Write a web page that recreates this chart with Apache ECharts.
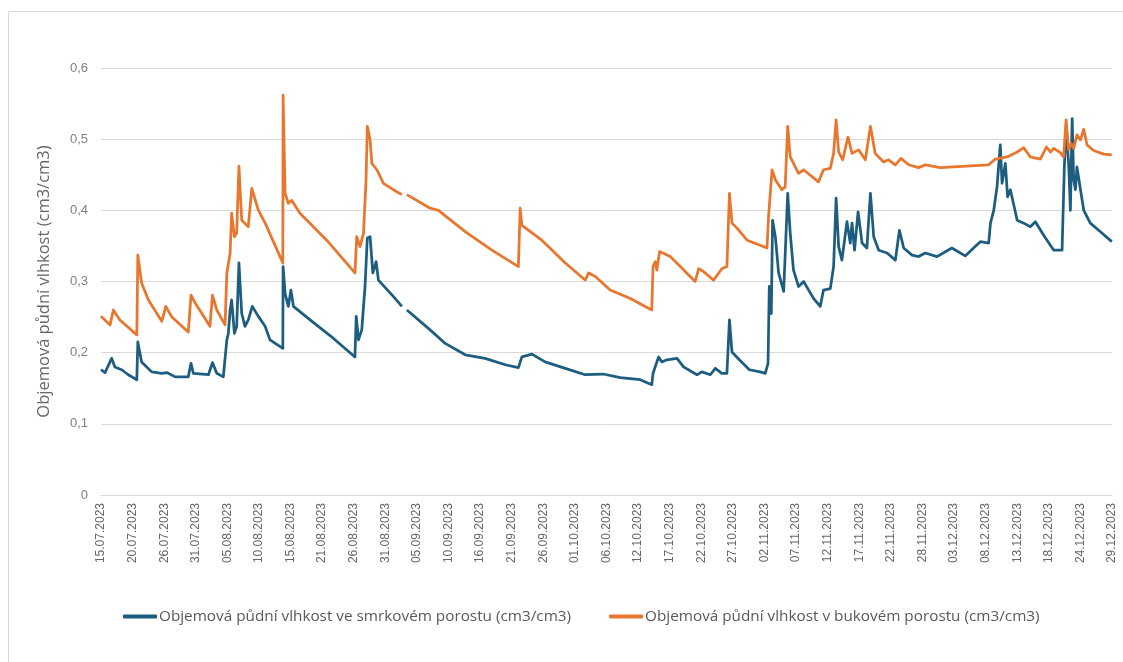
<!DOCTYPE html>
<html>
<head>
<meta charset="utf-8">
<style>
  html, body { margin: 0; padding: 0; background: #ffffff; }
  #chart { width: 1123px; height: 662px; }
</style>
<script src="https://cdn.jsdelivr.net/npm/echarts@6/dist/echarts.min.js"></script>
</head>
<body>
<div id="chart"></div>
<script>
// Date labels shown under the time axis (evenly spaced)
var tickLabels = ['15.07.2023','20.07.2023','26.07.2023','31.07.2023','05.08.2023','10.08.2023','15.08.2023',
  '21.08.2023','26.08.2023','31.08.2023','05.09.2023','10.09.2023','16.09.2023','21.09.2023','26.09.2023',
  '01.10.2023','06.10.2023','12.10.2023','17.10.2023','22.10.2023','27.10.2023','02.11.2023','07.11.2023',
  '12.11.2023','17.11.2023','22.11.2023','28.11.2023','03.12.2023','08.12.2023','13.12.2023','18.12.2023',
  '24.12.2023','29.12.2023'];

var yTicks = [0, 0.1, 0.2, 0.3, 0.4, 0.5, 0.6];

// Spruce stand – measurement times (MM-DD HH:mm, 2023) and soil moisture (cm3/cm3)
var spruceTimes = ['07-15 00:00','07-15 16:00','07-16 18:00','07-17 07:00','07-18 10:00','07-19 12:00','07-20 22:00',
  '07-21 02:00','07-21 17:00','07-23 09:00','07-25 01:00','07-25 21:00','07-27 06:00','07-29 10:00','07-29 21:00',
  '07-30 06:00','08-01 18:00','08-02 10:00','08-03 03:00','08-04 05:00','08-04 19:00','08-05 01:00','08-05 08:00',
  '08-05 14:00','08-06 01:00','08-06 10:00','08-06 19:00','08-07 06:00','08-07 19:00','08-08 08:00','08-09 00:00',
  '08-10 00:00','08-11 03:00','08-11 22:00','08-14 01:00','08-14 02:00','08-14 10:00','08-14 23:00','08-15 09:00',
  '08-15 19:00','08-18 13:00','08-22 10:00','08-25 23:00','08-26 04:00','08-26 13:00','08-27 02:00','08-27 15:00',
  '08-28 00:00','08-28 11:00','08-28 22:00','08-29 11:00','08-29 20:00','09-01 07:00','09-02 17:00','09-03 02:00',
  '09-03 13:00','09-07 09:00','09-09 21:00','09-13 04:00','09-16 11:00','09-19 19:00','09-21 23:00','09-22 13:00',
  '09-24 05:00','09-26 09:00','09-29 17:00','10-03 00:00','10-05 23:00','10-08 19:00','10-12 02:00','10-14 00:00',
  '10-14 05:00','10-15 03:00','10-15 16:00','10-16 12:00','10-18 04:00','10-19 06:00','10-21 11:00','10-22 07:00',
  '10-23 16:00','10-24 12:00','10-25 14:00','10-26 10:00','10-26 20:00','10-27 06:00','10-28 11:00','10-30 03:00',
  '10-31 22:00','11-01 18:00','11-02 05:00','11-02 10:00','11-02 18:00','11-02 23:00','11-03 10:00','11-03 23:00',
  '11-04 19:00','11-05 11:00','11-05 21:00','11-06 10:00','11-07 06:00','11-08 02:00','11-09 18:00','11-10 20:00',
  '11-11 09:00','11-12 12:00','11-13 01:00','11-13 11:00','11-13 21:00','11-14 10:00','11-15 06:00','11-15 19:00',
  '11-16 02:00','11-16 12:00','11-17 02:00','11-17 18:00','11-18 13:00','11-19 03:00','11-19 16:00','11-20 12:00',
  '11-21 21:00','11-23 06:00','11-23 22:00','11-24 15:00','11-26 00:00','11-27 02:00','11-28 05:00','11-30 03:00',
  '12-02 14:00','12-04 19:00','12-06 04:00','12-07 07:00','12-08 16:00','12-08 23:00','12-09 12:00','12-10 01:00',
  '12-10 14:00','12-10 21:00','12-11 10:00','12-11 19:00','12-12 06:00','12-13 09:00','12-14 11:00','12-15 13:00',
  '12-16 09:00','12-17 18:00','12-19 10:00','12-20 19:00','12-21 04:00','12-21 11:00','12-21 21:00','12-22 04:00',
  '12-22 11:00','12-22 17:00','12-23 00:00','12-23 06:00','12-23 20:00','12-24 09:00','12-25 11:00','12-27 03:00',
  '12-29 00:00'];
var spruceValues = [0.176,0.172,0.192,0.180,0.176,0.169,0.162,
  0.215,0.187,0.173,0.171,0.172,0.166,0.166,0.185,
  0.171,0.169,0.186,0.171,0.166,0.218,0.227,0.260,
  0.274,0.227,0.237,0.326,0.255,0.237,0.246,0.265,
  0.251,0.237,0.218,0.206,0.321,0.283,0.265,0.288,
  0.265,0.246,0.220,0.194,0.251,0.218,0.232,0.293,
  0.361,0.363,0.312,0.328,0.302,0.279,0.265,null,
  0.260,0.232,0.213,0.197,0.192,0.183,0.179,0.194,
  0.198,0.187,0.178,0.169,0.170,0.165,0.162,0.155,
  0.171,0.194,0.187,0.190,0.192,0.180,0.169,0.173,
  0.169,0.178,0.171,0.171,0.246,0.201,0.190,0.176,
  0.173,0.171,0.185,0.293,0.255,0.386,0.363,0.312,
  0.286,0.424,0.368,0.316,0.293,0.300,0.276,0.265,
  0.288,0.290,0.321,0.417,0.349,0.330,0.384,0.354,
  0.382,0.344,0.398,0.354,0.347,0.424,0.363,0.344,
  0.340,0.330,0.372,0.347,0.337,0.335,0.340,0.335,
  0.347,0.336,0.347,0.356,0.354,0.382,0.400,0.433,
  0.492,0.438,0.466,0.419,0.429,0.386,0.382,0.377,
  0.384,0.365,0.344,0.344,0.461,0.518,0.466,0.400,
  0.529,0.443,0.429,0.461,0.429,0.400,0.382,0.370,
  0.356];

// Beech stand – measurement times (MM-DD HH:mm, 2023) and soil moisture (cm3/cm3)
var beechTimes = ['07-15 00:00','07-16 12:00','07-17 01:00','07-18 03:00','07-20 22:00','07-21 02:00','07-21 17:00',
  '07-22 20:00','07-25 01:00','07-25 17:00','07-26 17:00','07-29 10:00','07-29 21:00','07-30 13:00','08-02 00:00',
  '08-02 10:00','08-03 03:00','08-04 12:00','08-04 19:00','08-05 08:00','08-05 14:00','08-06 01:00','08-06 10:00',
  '08-06 19:00','08-07 06:00','08-08 08:00','08-08 22:00','08-10 00:00','08-11 03:00','08-13 14:00','08-14 01:00',
  '08-14 02:00','08-14 10:00','08-14 23:00','08-15 12:00','08-16 21:00','08-21 07:00','08-25 23:00','08-26 06:00',
  '08-26 19:00','08-27 09:00','08-27 19:00','08-28 00:00','08-28 11:00','08-28 18:00','08-29 14:00','08-30 16:00',
  '09-01 07:00','09-02 17:00','09-03 02:00','09-03 13:00','09-07 09:00','09-08 18:00','09-13 04:00','09-17 14:00',
  '09-21 23:00','09-22 06:00','09-22 13:00','09-25 20:00','09-29 17:00','10-03 00:00','10-03 13:00','10-04 16:00',
  '10-07 03:00','10-10 11:00','10-14 00:00','10-14 05:00','10-14 14:00','10-14 20:00','10-15 07:00','10-17 01:00',
  '10-18 17:00','10-21 04:00','10-21 18:00','10-22 13:00','10-24 05:00','10-25 14:00','10-26 10:00','10-26 20:00',
  '10-27 06:00','10-28 02:00','10-29 18:00','10-31 22:00','11-02 01:00','11-02 07:00','11-02 21:00','11-03 10:00',
  '11-04 12:00','11-05 01:00','11-05 11:00','11-05 21:00','11-07 06:00','11-08 02:00','11-10 13:00','11-11 09:00',
  '11-12 12:00','11-13 01:00','11-13 11:00','11-13 21:00','11-14 13:00','11-15 10:00','11-16 02:00','11-17 04:00',
  '11-18 07:00','11-19 03:00','11-19 22:00','11-21 07:00','11-22 03:00','11-23 06:00','11-24 04:00','11-25 11:00',
  '11-27 02:00','11-28 05:00','11-30 16:00','12-08 16:00','12-09 18:00','12-11 17:00','12-13 09:00','12-14 11:00',
  '12-15 13:00','12-17 05:00','12-18 05:00','12-18 21:00','12-19 10:00','12-20 12:00','12-21 01:00','12-21 11:00',
  '12-21 21:00','12-22 07:00','12-22 17:00','12-23 06:00','12-23 20:00','12-24 09:00','12-24 22:00','12-26 00:00',
  '12-27 16:00','12-29 00:00'];
var beechValues = [0.251,0.239,0.260,0.246,0.225,0.337,0.298,
  0.274,0.244,0.265,0.250,0.229,0.281,0.270,0.237,
  0.281,0.260,0.239,0.312,0.340,0.396,0.363,0.368,
  0.462,0.386,0.377,0.431,0.400,0.382,0.335,0.326,
  0.562,0.424,0.410,0.414,0.396,0.358,0.312,0.363,
  0.349,0.368,0.443,0.518,0.499,0.466,0.457,0.438,
  0.429,0.422,null,0.422,0.403,0.400,0.370,0.344,
  0.321,0.403,0.379,0.358,0.326,0.302,0.312,0.307,
  0.288,0.276,0.260,0.321,0.328,0.316,0.342,0.335,
  0.321,0.300,0.318,0.314,0.302,0.318,0.321,0.424,
  0.382,0.375,0.358,0.351,0.347,0.391,0.457,0.443,
  0.429,0.433,0.518,0.475,0.452,0.457,0.440,0.457,
  0.459,0.480,0.527,0.482,0.471,0.503,0.480,0.485,
  0.471,0.518,0.480,0.468,0.471,0.464,0.473,0.464,
  0.460,0.464,0.460,0.464,0.472,0.475,0.482,0.488,
  0.475,0.472,0.489,0.482,0.487,0.481,0.475,0.527,
  0.485,0.494,0.487,0.506,0.499,0.514,0.492,0.484,
  0.479,0.478];

var seriesNames = ['Objemová půdní vlhkost ve smrkovém porostu (cm3/cm3)',
                   'Objemová půdní vlhkost v bukovém porostu (cm3/cm3)'];
var yAxisTitle = 'Objemová půdní vlhkost (cm3/cm3)';

// The x axis counts days since 15.07.2023 00:00; labels are spaced every 5.22 days.
var DAY_STEP = 5.22;
var X_MAX = DAY_STEP * (tickLabels.length - 1);

function dayOffset(s) {
  var m = +s.slice(0, 2), d = +s.slice(3, 5), h = +s.slice(6, 8), mi = +s.slice(9, 11);
  var t = Date.UTC(2023, m - 1, d, h, mi);
  return (t - Date.UTC(2023, 6, 15, 0, 0)) / 86400000;
}
function pairs(times, values) {
  return times.map(function (t, i) { return [dayOffset(t), values[i]]; });
}

var chart = echarts.init(document.getElementById('chart'), null, { renderer: 'canvas' });
chart.setOption({
  backgroundColor: '#ffffff',
  animation: false,
  graphic: [
    { type: 'line', shape: { x1: 8.5, y1: 11.5, x2: 1123, y2: 11.5 }, style: { stroke: '#d9d9d9', lineWidth: 1 } },
    { type: 'line', shape: { x1: 8.5, y1: 11.5, x2: 8.5, y2: 662 }, style: { stroke: '#d9d9d9', lineWidth: 1 } }
  ],
  grid: { left: 101, right: 11, top: 68, bottom: 167, containLabel: false },
  legend: {
    bottom: 33,
    left: 118,
    itemGap: 38,
    itemWidth: 34,
    itemHeight: 4,
    icon: 'roundRect',
    textStyle: { fontFamily: 'Open Sans', fontSize: 15.3, color: '#595959', padding: [0, 0, 0, -3] },
    data: seriesNames
  },
  xAxis: {
    type: 'value',
    min: 0,
    max: X_MAX,
    interval: DAY_STEP,
    axisLine: { show: true, lineStyle: { color: '#d9d9d9', width: 1 } },
    axisTick: { show: false },
    splitLine: { show: false },
    axisLabel: {
      rotate: 90,
      margin: 8,
      color: '#666666',
      fontFamily: 'Liberation Sans',
      fontSize: 12,
      showMinLabel: true,
      showMaxLabel: true,
      formatter: function (v) {
        var i = Math.round(v / DAY_STEP);
        return tickLabels[i] || '';
      }
    }
  },
  yAxis: {
    type: 'value',
    min: yTicks[0],
    max: yTicks[yTicks.length - 1],
    interval: 0.1,
    name: yAxisTitle,
    nameLocation: 'middle',
    nameGap: 48,
    nameTextStyle: { fontFamily: 'Open Sans', fontSize: 16.5, color: '#666666' },
    axisLine: { show: false },
    axisTick: { show: false },
    splitLine: { lineStyle: { color: '#d9d9d9', width: 1 } },
    axisLabel: {
      margin: 13,
      color: '#7f7f7f',
      fontFamily: 'Liberation Sans',
      fontSize: 13,
      formatter: function (v) { return v === 0 ? '0' : v.toFixed(1).replace('.', ','); }
    }
  },
  series: [
    {
      name: seriesNames[0],
      type: 'line',
      data: pairs(spruceTimes, spruceValues),
      showSymbol: false,
      symbol: 'none',
      connectNulls: false,
      color: '#1d5d80',
      lineStyle: { color: '#1d5d80', width: 2.75, join: 'round' }
    },
    {
      name: seriesNames[1],
      type: 'line',
      data: pairs(beechTimes, beechValues),
      showSymbol: false,
      symbol: 'none',
      connectNulls: false,
      color: '#e8762d',
      lineStyle: { color: '#e8762d', width: 2.75, join: 'round' }
    }
  ]
});
</script>
</body>
</html>
